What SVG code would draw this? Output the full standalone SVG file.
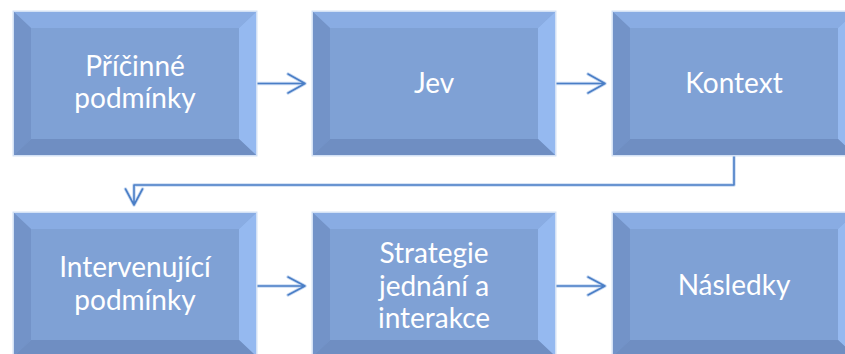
<svg xmlns="http://www.w3.org/2000/svg" xmlns:xlink="http://www.w3.org/1999/xlink" width="845" height="354" viewBox="0 0 845 354">
<style>
.lbl{font-family:Lato,"Open Sans","Liberation Sans",sans-serif;font-size:28px;fill:#ffffff;text-anchor:middle}
.conn{fill:none;stroke:#4a7ec6;stroke-width:1.6;stroke-linecap:round;stroke-linejoin:round}
.halo{fill:none;stroke:#c9daf2;stroke-width:3.5;stroke-linecap:round;stroke-linejoin:round}
</style>
<defs>
<g id="bevel">
<rect x="-1.5" y="-1.5" width="245" height="146" fill="#d3e1f5"/>
<rect x="0" y="0" width="242" height="143" fill="#7fa1d5"/>
<polygon points="0,0 242,0 225,16 17,16" fill="#89ace3"/>
<polygon points="0,0 17,16 17,127 0,143" fill="#7393c8"/>
<polygon points="242,0 242,143 225,127 225,16" fill="#95b9f0"/>
<polygon points="0,143 17,127 225,127 242,143" fill="#6f8ec2"/>
<rect x="17" y="16" width="208" height="111" fill="#7fa1d5"/>
</g>
</defs>
<rect width="845" height="354" fill="#ffffff"/>
<g id="connectors">
<path class="halo" d="M256,83.5 H305 M288,74 L305,83.5 L288,93"/>
<path class="conn" d="M256,83.5 H305 M288,74 L305,83.5 L288,93"/>
<path class="halo" d="M555,83.5 H605 M588,74 L605,83.5 L588,93"/>
<path class="conn" d="M555,83.5 H605 M588,74 L605,83.5 L588,93"/>
<path class="halo" d="M734,155 V185 H134 V205 M125.5,189 L134,205 L142.5,189"/>
<path class="conn" d="M734,155 V185 H134 V205 M125.5,189 L134,205 L142.5,189"/>
<path class="halo" d="M256,286 H305 M288,277 L305,286 L288,295"/>
<path class="conn" d="M256,286 H305 M288,277 L305,286 L288,295"/>
<path class="halo" d="M555,286 H605 M588,277 L605,286 L588,295"/>
<path class="conn" d="M555,286 H605 M588,277 L605,286 L588,295"/>
</g>
<g id="n1"><use xlink:href="#bevel" x="14" y="12"/><text class="lbl" x="135" y="76">Příčinné</text><text class="lbl" x="135" y="108">podmínky</text></g>
<g id="n2"><use xlink:href="#bevel" x="313" y="12"/><text class="lbl" x="434" y="93">Jev</text></g>
<g id="n3"><use xlink:href="#bevel" x="613" y="12"/><text class="lbl" x="734" y="93">Kontext</text></g>
<g id="n4"><use xlink:href="#bevel" x="14" y="213"/><text class="lbl" x="135" y="277">Intervenující</text><text class="lbl" x="135" y="310">podmínky</text></g>
<g id="n5"><use xlink:href="#bevel" x="313" y="213"/><text class="lbl" x="434" y="263">Strategie</text><text class="lbl" x="434" y="296">jednání a</text><text class="lbl" x="434" y="328">interakce</text></g>
<g id="n6"><use xlink:href="#bevel" x="613" y="213"/><text class="lbl" x="734" y="295">Následky</text></g>
</svg>
